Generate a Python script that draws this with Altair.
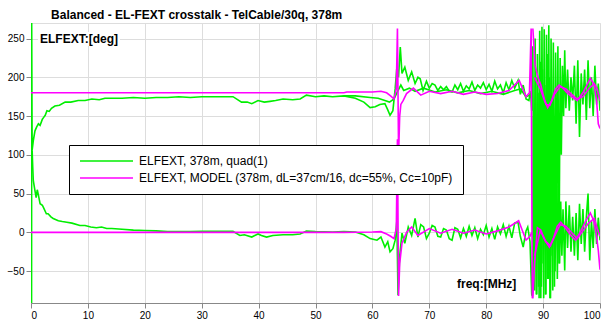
import altair as alt
import pandas as pd

TITLE = "Balanced - EL-FEXT crosstalk - TelCable/30q, 378m"
LBL_G = "ELFEXT, 378m, quad(1)"
LBL_M = "ELFEXT, MODEL (378m, dL=37cm/16, dc=55%, Cc=10pF)"
Y_TICKS = [-50, 0, 50, 100, 150, 200, 250]
X_TICKS = [0, 10, 20, 30, 40, 50, 60, 70, 80, 90, 100]

# ---- measured green trace, upper branch ----
gu_x = [0.10, 0.12, 0.20, 0.40, 0.70, 1.0, 1.3, 1.6, 2.0, 2.2, 2.5, 2.8, 3.2, 3.6, 4.2, 5.0, 6.0, 7.0, 8.3, 9.5,
        10.7, 12.0, 13.0, 14.2, 16.0, 18.0, 20.0, 22.0, 24.0, 26.0, 28.0, 30.0, 32.0, 34.0, 35.5, 37.0, 38.0, 38.8,
        39.9, 41.0, 42.0, 43.0, 44.3, 46.0, 47.3, 48.4, 50.0, 51.5, 53.0, 55.0, 57.0, 58.5, 59.6, 60.5, 61.3, 62.2,
        62.7, 63.1, 63.6, 64.0, 64.3, 64.6, 64.9, 65.2, 65.7, 66.3, 66.9, 67.5, 68.0, 68.4, 68.9, 69.5, 70.0, 70.5,
        71.0, 71.5, 72.0, 72.5, 73.0, 73.5, 74.0, 74.5, 75.0, 75.5, 76.0, 76.5, 77.0, 77.5, 78.0, 78.5, 79.0, 79.5,
        80.0, 80.5, 81.0, 81.5, 82.0, 82.5, 83.0, 83.5, 84.0, 84.5, 85.0, 85.6, 86.0, 86.5, 87.0, 87.5, 87.8, 88.0,
        88.2, 88.4, 88.6, 88.8, 89.0, 89.2, 89.4, 89.6, 89.8, 90.0, 90.2, 90.4, 90.6, 90.8, 91.0, 91.2, 91.4, 91.6,
        91.8, 92.0, 92.2, 92.4, 92.6, 92.8, 93.0, 93.2, 93.4, 93.6, 93.8, 94.0, 94.3, 94.6, 94.9, 95.2, 95.5, 95.8,
        96.1, 96.4, 96.7, 97.0, 97.3, 97.6, 97.9, 98.2, 98.5, 98.8, 99.1, 99.4, 99.7, 100.0]
gu_y = [-91, 270, 106, 118, 131, 136, 140, 138, 146, 148, 151, 157, 156, 160, 163, 164, 168, 168, 170, 170,
        172, 171, 173, 173, 173, 174, 173, 174, 174, 175, 174, 175, 175, 175, 175, 168, 168, 166,
        170, 168, 169, 170, 172, 171, 172, 177, 175, 176, 175, 176, 173, 168, 161, 162, 165, 166,
        158, 151, 157, 185, 213, 200, 239, 205, 213, 196, 207, 192, 200, 198, 183, 195, 186, 192,
        190, 183, 188, 184, 188, 182, 181, 190, 184, 192, 182, 189, 185, 194, 183, 190, 186, 193,
        184, 191, 182, 195, 185, 190, 180, 193, 184, 196, 186, 196, 178, 190, 172, 170, 182, 157,
        240, -60, 250, -80, 230, -70, 260, -85, 265, -40, 262, -80, 255, -60, 267, -85, 250, -30,
        245, -70, 232, 20, 240, -40, 225, 100, 215, 150, 235, 160, 210, 157, 200, 170, 215, 140,
        222, 123, 205, 165, 210, 145, 222, 160, 200, 150, 215, 165, 192, 157]

# second, smoother green upper trace (55..88 MHz)
gu2_x = [55.0, 57.0, 59.6, 61.0, 62.2, 63.0, 63.8, 64.3, 65.0, 65.5, 66.5, 67.5, 69.0, 71.0, 73.0, 75.0, 77.0,
         79.0, 81.0, 83.0, 85.0, 86.0, 87.0, 88.0]
gu2_y = [176, 176, 174, 173, 170, 168, 172, 180, 190, 183, 186, 182, 186, 181, 184, 180, 183,
         179, 182, 178, 183, 185, 175, 178]

# ---- measured green trace, lower branch ----
gl_x = [0.20, 0.30, 0.40, 0.60, 0.90, 1.1, 1.3, 1.6, 2.0, 2.2, 2.7, 3.0, 3.5, 3.9, 4.8, 5.5, 6.3, 7.2, 8.6, 9.5,
        10.5, 11.5, 12.4, 13.3, 14.2, 16.0, 18.0, 20.0, 22.0, 24.0, 26.0, 28.0, 30.0, 33.0, 35.5, 36.7, 37.5,
        38.8, 39.9, 40.5, 41.4, 42.5, 44.3, 46.0, 47.3, 48.4, 50.0, 53.0, 55.0, 57.0, 58.5, 59.6, 60.8, 61.5,
        62.2, 62.7, 63.1, 63.6, 64.0, 64.3, 64.5, 64.8, 65.2, 65.7, 66.3, 66.9, 67.5, 68.0, 68.5, 69.0, 69.5,
        70.0, 70.5, 71.0, 71.5, 72.0, 72.5, 73.0, 73.5, 74.0, 74.5, 75.0, 75.5, 76.0, 76.5, 77.0, 77.5, 78.0,
        78.5, 79.0, 79.5, 80.0, 80.5, 81.0, 81.5, 82.0, 82.5, 83.0, 83.5, 84.0, 84.5, 85.0, 85.6, 86.0, 86.5,
        87.0, 87.3, 87.7, 88.0, 88.1, 88.3, 88.5, 88.7, 88.9, 89.1, 89.3, 89.5, 89.7, 89.9, 90.1, 90.3, 90.5,
        90.7, 90.9, 91.1, 91.3, 91.5, 91.7, 91.9, 92.1, 92.3, 92.5, 92.7, 92.9, 93.1, 93.3, 93.5, 93.8, 94.0,
        94.3, 94.6, 94.9, 95.2, 95.5, 95.8, 96.1, 96.4, 96.7, 97.0, 97.3, 97.6, 97.9, 98.2, 98.5, 98.8, 99.1,
        99.4, 99.7, 100.0]
gl_y = [106, 85, 67, 58, 45, 55, 48, 37, 35, 32, 24, 24, 20, 18, 15, 14, 13, 12, 9, 9,
        7, 6, 7, 5, 5, 4, 3, 2.5, 2, 1, 1, 1, 1.5, 1.5, 1.5, -4, -3,
        -6, -2, -4, -6, -4, -3, -3, -2, 1.7, 1, 0.4, 1, 0.4, -3, -8, -10, -6,
        -19, -12, -25, -21, -10, 15, -81, -30, -1, -14, 7, -4, 18, -6, 10, 7, -8,
        -1, 9, 7, -5, -6, 5, 3, -8, -10, 6, 4, -7, 5, -5, 8, -4, 6,
        -8, 4, -3, 9, -6, 5, -9, 7, -2, 10, -5, 8, -7, 12, 13, -5, -19,
        2, 7, -12, -80, -82, 150, -75, 200, -80, 180, -85, 220, -70, 210, -85, 190, -80,
        230, -60, 200, -85, 160, -75, 140, -50, 100, -60, 60, -40, 40, -30, 30, -49, 40,
        -20, 35, -25, 20, -30, 25, -36, 37, -15, 30, -25, 20, 50, -36, 15, -20, 30,
        -15, 19, -10]

# ---- model trace, upper branch ----
mu_x = [0.0, 55.0, 55.5, 60.0, 61.5, 62.5, 63.2, 63.8, 64.2, 64.4, 64.6, 64.8, 65.0, 65.4, 66.0, 67.2, 68.5,
        70.0, 72.0, 74.0, 76.0, 78.0, 80.0, 82.0, 84.0, 85.8, 87.0, 87.6, 87.9, 88.1]
mu_y = [180, 180, 181, 181, 182, 180, 176, 172, 185, 263, 100, 150, 165, 170, 179, 186, 177,
        182, 179, 182, 178, 181, 178, 179, 183, 196, 175, 180, 263, -85]
mu2_x = [88.2, 88.6, 89.1, 89.6, 90.2, 90.8, 91.5, 92.2, 92.8, 93.5, 94.2, 95.0, 96.0, 97.0, 98.3, 99.0,
         99.4, 99.7, 100.0]
mu2_y = [263, 215, 200, 190, 172, 161, 170, 185, 190, 186, 180, 175, 170, 180, 199, 190,
         170, 140, 134]
mu3_x = [88.5, 89.5, 90.5, 91.2, 92.0, 93.0, 94.0, 95.0, 96.0, 97.0, 98.0, 99.0, 99.5, 100.0]
mu3_y = [200, 185, 165, 164, 178, 188, 185, 178, 172, 175, 185, 192, 185, 170]

# ---- model trace, lower branch ----
ml_x = [0.0, 55.0, 60.0, 61.5, 62.5, 63.2, 63.8, 64.2, 64.4, 64.6, 64.8, 65.2, 66.0, 66.9, 68.0, 70.0,
        72.0, 74.0, 76.0, 78.0, 80.0, 82.0, 84.0, 85.7, 87.0, 87.7, 88.0]
ml_y = [0, 0, 0.5, 1, -2, -5, -8, 5, 120, -82, -40, -14, 0, 7, -4, 5,
        -1, 4, -1, 3, -2, 2, 7, 15, -10, -5, 0]
ml2_x = [88.2, 88.5, 89.0, 89.6, 90.3, 91.1, 91.8, 92.5, 93.1, 94.0, 95.0, 95.7, 96.5, 97.5, 98.3, 98.9,
         99.3, 99.7, 100.0]
ml2_y = [-85, -40, 6, 3, -10, -19, -8, 8, 13, 5, -5, -10, 0, 15, 25, 15,
         0, -23, -48]
ml3_x = [88.5, 89.5, 90.5, 91.3, 92.0, 93.0, 94.0, 95.0, 96.0, 97.0, 98.0, 99.0, 99.5, 100.0]
ml3_y = [-30, 2, -12, -17, -5, 10, 8, 0, -8, 2, 12, 18, 5, -5]

rows = []


def add(xs, ys, series, part):
    for i, (x, y) in enumerate(zip(xs, ys)):
        rows.append({"f": x, "v": y, "series": series, "part": part, "i": i})


add(gu_x, gu_y, LBL_G, "gu")
add(gu2_x, gu2_y, LBL_G, "gu2")
add(gl_x, gl_y, LBL_G, "gl")
add(mu_x, mu_y, LBL_M, "mu")
add(mu2_x, mu2_y, LBL_M, "mu2")
add(mu3_x, mu3_y, LBL_M, "mu3")
add(ml_x, ml_y, LBL_M, "ml")
add(ml2_x, ml2_y, LBL_M, "ml2")
add(ml3_x, ml3_y, LBL_M, "ml3")
df = pd.DataFrame(rows)
one = pd.DataFrame({"k": [0]})

FONT = "Liberation Sans"

color = alt.Color(
    "series:N",
    scale=alt.Scale(domain=[LBL_G, LBL_M], range=["#00ee00", "#ff00ff"]),
    legend=alt.Legend(
        title=None, orient="none", legendX=38, legendY=122,
        fillColor="white", strokeColor="black", padding=10, rowPadding=5,
        symbolType="M-1,0H9.6", symbolSize=100, symbolStrokeWidth=1.5,
        labelOffset=48, labelFontSize=12, labelFont=FONT, labelColor="black",
        labelLimit=500,
    ),
)

xenc = alt.X("f:Q", scale=alt.Scale(domain=[0, 100], nice=False),
             axis=alt.Axis(values=X_TICKS, title=None))
yenc = alt.Y("v:Q", scale=alt.Scale(domain=[-91, 270], nice=False, zero=False),
             axis=alt.Axis(values=Y_TICKS, title=None))

green = alt.Chart(df).transform_filter(alt.datum.series == LBL_G).mark_line(
    strokeWidth=1.6, clip=True).encode(
    x=xenc, y=yenc, color=color, detail="part:N", order="i:Q")
magenta = alt.Chart(df).transform_filter(alt.datum.series == LBL_M).mark_line(
    strokeWidth=1.6, clip=True).encode(
    x=xenc, y=yenc, color=color, detail="part:N", order="i:Q")

lab_bg = alt.Chart(one).mark_rect(fill="white").encode(
    x=alt.value(7), x2=alt.value(89), y=alt.value(9), y2=alt.value(23))
ylab = alt.Chart(one).mark_text(
    text="ELFEXT:[deg]", align="left", baseline="alphabetic", fontWeight="bold",
    fontSize=12, font=FONT, color="black").encode(x=alt.value(9), y=alt.value(20))
xlab = alt.Chart(one).mark_text(
    text="freq:[MHz]", align="left", baseline="alphabetic", fontWeight="bold",
    fontSize=12, font=FONT, color="black").encode(x=alt.value(426), y=alt.value(265))

chart = alt.layer(green, magenta, lab_bg, ylab, xlab).properties(
    width=569, height=280,
    padding={"left": 31, "top": 23, "right": 10, "bottom": 19},
    autosize="none",
    title=alt.Title(TITLE, anchor="start", dx=44, dy=13, fontSize=12, fontWeight="bold",
                    font=FONT, color="black", offset=5, baseline="alphabetic"),
).configure_view(
    stroke="black", strokeWidth=2
).configure_axis(
    grid=True, gridColor="black", gridDash=[2, 2], gridWidth=1, gridOpacity=1,
    domain=False, ticks=False, labelFont=FONT, labelFontSize=12, labelColor="black",
    labelPadding=5,
).configure(background="white")

chart.save("out.html", embed_options={"renderer": "svg", "actions": False})
